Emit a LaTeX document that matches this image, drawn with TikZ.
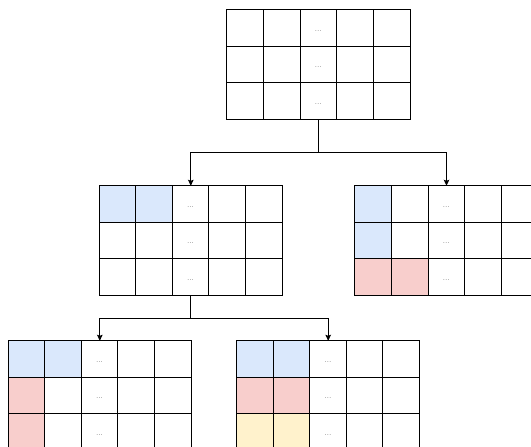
\documentclass[tikz,border=0pt]{standalone}
\usepackage{tikz}
\usetikzlibrary{arrows.meta, calc}

\definecolor{cblue}{HTML}{DAE8FC}
\definecolor{cred}{HTML}{F8CECC}
\definecolor{cyellow}{HTML}{FFF2CC}

% cell size of every grid
\newcommand\cw{36.6}
\newcommand\ch{36.5}
% fill one cell of a grid: grid, column, row, colour
\newcommand\gridcell[4]{%
  \fill[#4] ($(#1.north west)+(#2*\cw,#3*\ch)$) rectangle ++(\cw,\ch);}

\begin{document}
\begin{tikzpicture}[
    x=1pt, y=-1pt,
    gridbox/.style={minimum width=183pt, minimum height=109.5pt, inner sep=0pt},
    gline/.style={line width=1pt, black},
    dots/.style={font=\fontsize{7}{8}\selectfont, text=black!85},
    arr/.style={-{Stealth[length=6pt, width=5.5pt, inset=1pt]}, line width=0.9pt}
]
\useasboundingbox (0,0) rectangle (531,447);
\clip (0,0) rectangle (531,447);

%% ---- grids ----------------------------------------------------
\node[gridbox] (top)  at (318.5,64.75)  {};
\node[gridbox] (midl) at (190.8,240.75) {};
\node[gridbox] (midr) at (446.5,240.75) {};
\node[gridbox] (botl) at (99.8,395.75)  {};
\node[gridbox] (botr) at (328.2,395.75) {};

%% ---- coloured cells -------------------------------------------
\gridcell{midl}{0}{0}{cblue}
\gridcell{midl}{1}{0}{cblue}

\gridcell{midr}{0}{0}{cblue}
\gridcell{midr}{0}{1}{cblue}
\gridcell{midr}{0}{2}{cred}
\gridcell{midr}{1}{2}{cred}

\gridcell{botl}{0}{0}{cblue}
\gridcell{botl}{1}{0}{cblue}
\gridcell{botl}{0}{1}{cred}
\gridcell{botl}{0}{2}{cred}

\gridcell{botr}{0}{0}{cblue}
\gridcell{botr}{1}{0}{cblue}
\gridcell{botr}{0}{1}{cred}
\gridcell{botr}{1}{1}{cred}
\gridcell{botr}{0}{2}{cyellow}
\gridcell{botr}{1}{2}{cyellow}

%% ---- lines and dots -------------------------------------------
\foreach \g in {top,midl,midr,botl,botr} {
  \foreach \i in {1,...,4}
    \draw[gline] ($(\g.north west)+(\i*\cw,0)$) -- ++(0,3*\ch);
  \foreach \j in {1,2}
    \draw[gline] ($(\g.north west)+(0,\j*\ch)$) -- ++(5*\cw,0);
  \draw[gline] (\g.north west) rectangle (\g.south east);
  \foreach \j in {0,1,2}
    \node[dots] at ($(\g.north west)+(2.5*\cw,\j*\ch+0.5*\ch+3)$) {...};
}

%% ---- connectors -----------------------------------------------
\draw[arr] (top.south)  -- ++(0,33) -| (midl.north);
\draw[arr] (top.south)  -- ++(0,33) -| (midr.north);
\draw[arr] (midl.south) -- ++(0,23) -| (botl.north);
\draw[arr] (midl.south) -- ++(0,23) -| (botr.north);

\end{tikzpicture}
\end{document}
